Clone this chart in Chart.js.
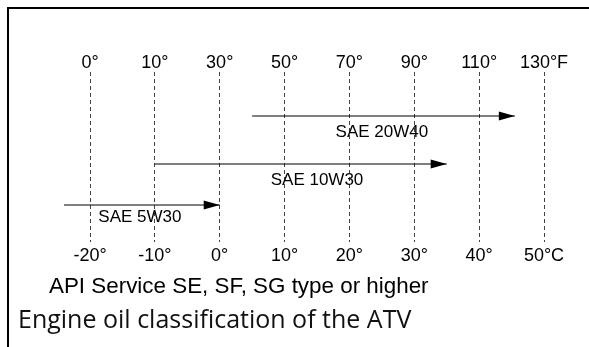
<!DOCTYPE html>
<html>
<head>
<meta charset="utf-8">
<script src="https://cdn.jsdelivr.net/npm/chart.js@4/dist/chart.umd.min.js"></script>
<style>
  html, body { margin: 0; padding: 0; background: #fff; }
  #wrap { position: relative; width: 589px; height: 347px; overflow: hidden; }
  #frame { position: absolute; left: 7px; top: 7px; right: -4px; bottom: -4px;
           border-left: 2px solid #000; border-top: 2px solid #000; }
  canvas { position: absolute; left: 0; top: 0; }
  .cap { position: absolute; white-space: nowrap; color: #000; }
  #api { left: 49px; top: 275px; font: 22.4px/22px "Liberation Sans", Arial, sans-serif; }
  #title { left: 18px; top: 306px; font: 25px/25px "Open Sans", sans-serif; color: #111; }
</style>
</head>
<body>
<div id="wrap">
  <div id="frame"></div>
  <canvas id="c" width="589" height="347"></canvas>
  <div class="cap" id="api">API Service SE, SF, SG type or higher</div>
  <div class="cap" id="title">Engine oil classification of the ATV</div>
</div>
<script>
// Oil grades and the ambient temperature range (°C) each one covers
const grades = ['SAE 20W40', 'SAE 10W30', 'SAE 5W30'];
const rangeLowC = [5, -10, -24];
const rangeHighC = [45.5, 35, 0];

// Temperature scale tick labels (°C along the bottom, °F along the top)
const celsiusTicks = ['-20°', '-10°', '0°', '10°', '20°', '30°', '40°', '50°C'];
const fahrenheitTicks = ['0°', '10°', '30°', '50°', '70°', '90°', '110°', '130°F'];

// Layout: lane of each arrow on the hidden y scale (0–170), where its name sits (°C) and how far below
const lanes = [126, 78, 37];
const gradeLabelC = [25, 15, -12.3];
const gradeLabelDy = [16, 16, 12];

const tickFont = { family: '"Liberation Sans", Arial, sans-serif', size: 18 };

const datasets = grades.map((g, i) => ({
  label: g,
  data: [{ x: rangeLowC[i], y: lanes[i] }, { x: rangeHighC[i], y: lanes[i] }],
  borderColor: '#000',
  borderWidth: 1.2,
  pointRadius: 0,
  fill: false,
  clip: false
}));

// Arrowheads at the warm end of each range, plus the grade name under the arrow
const arrowPlugin = {
  id: 'arrows',
  afterDatasetsDraw(chart) {
    const ctx = chart.ctx;
    const xs = chart.scales.x;
    chart.data.datasets.forEach((ds, i) => {
      const pts = chart.getDatasetMeta(i).data;
      const tip = pts[pts.length - 1];
      ctx.save();
      ctx.fillStyle = '#000';
      ctx.beginPath();
      ctx.moveTo(tip.x, tip.y);
      ctx.lineTo(tip.x - 16, tip.y - 4.5);
      ctx.lineTo(tip.x - 16, tip.y + 4.5);
      ctx.closePath();
      ctx.fill();
      ctx.font = '17px "Liberation Sans", Arial, sans-serif';
      ctx.textAlign = 'center';
      ctx.textBaseline = 'middle';
      ctx.fillStyle = '#000';
      ctx.fillText(ds.label, xs.getPixelForValue(gradeLabelC[i]), tip.y + gradeLabelDy[i]);
      ctx.restore();
    });
  }
};

new Chart(document.getElementById('c'), {
  type: 'line',
  data: { datasets },
  plugins: [arrowPlugin],
  options: {
    responsive: false,
    devicePixelRatio: 1,
    animation: false,
    layout: { padding: { left: 90, right: 45, top: 0, bottom: 75 } },
    plugins: { legend: { display: false }, tooltip: { enabled: false } },
    scales: {
      x: {
        type: 'linear', position: 'bottom', min: -20, max: 50,
        ticks: { stepSize: 10, padding: 3, color: '#000', font: tickFont,
                 maxRotation: 0, autoSkip: false,
                 callback: (v, i) => celsiusTicks[i] },
        grid: { color: '#444', lineWidth: 1, drawTicks: false },
        border: { display: false, dash: [4, 3] },
        afterFit(s) { s.height = 30; }
      },
      xF: {
        type: 'linear', position: 'top', min: -20, max: 50,
        ticks: { stepSize: 10, padding: -2, color: '#000', font: tickFont,
                 maxRotation: 0, autoSkip: false,
                 callback: (v, i) => fahrenheitTicks[i] },
        grid: { display: false, drawTicks: false },
        border: { display: false },
        afterFit(s) { s.height = 72; }
      },
      y: { type: 'linear', min: 0, max: 170, display: false }
    }
  }
});
</script>
</body>
</html>
